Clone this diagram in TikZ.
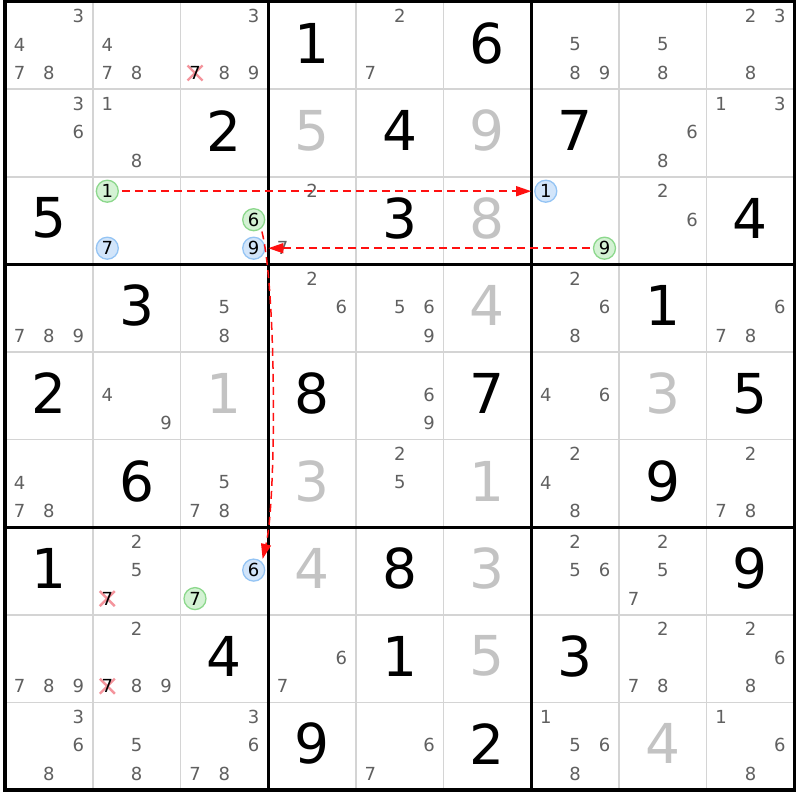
\documentclass[tikz,border=0pt]{standalone}
\usepackage{fontspec}
\setmainfont{DejaVu Sans}
\usetikzlibrary{arrows.meta}
\definecolor{thinc}{HTML}{D4D4D4}
\definecolor{candc}{HTML}{606060}
\definecolor{solvedc}{HTML}{C3C3C3}
\definecolor{gfill}{HTML}{D4F2D4}
\definecolor{gdraw}{HTML}{8CD88C}
\definecolor{bfill}{HTML}{D2E5FA}
\definecolor{bdraw}{HTML}{94C4F4}
\definecolor{xred}{HTML}{F4949C}
\definecolor{linkred}{HTML}{FF1010}
\newcommand\SetPos[3]{%
  \pgfmathsetmacro\px{5+87.7*(#2-1)+14.6+29.35*mod(#3-1,3)}%
  \pgfmathtruncatemacro\subrow{(#3-1)/3}%
  \pgfmathsetmacro\py{1.5+87.6*(#1-1)+14.5+28.5*\subrow}}
\newcommand\GivenD[3]{\node[given] (g#1#2) at ({5+87.7*(#2-1)+43.85},{1.5+87.6*(#1-1)+41.5}) {#3};}
\newcommand\SolvedD[3]{\node[solved] (g#1#2) at ({5+87.7*(#2-1)+43.85},{1.5+87.6*(#1-1)+41.5}) {#3};}
\newcommand\Cands[3]{\foreach \d in {#3}{\SetPos{#1}{#2}{\d}\node[cand] (k#1#2\d) at (\px,\py) {\d};}}
\newcommand\Circled[4]{\SetPos{#1}{#2}{#3}\node[cand,#4] (k#1#2#3) at (\px,\py) {#3};}
\newcommand\Crossed[3]{\SetPos{#1}{#2}{#3}\coordinate (x#1#2#3) at (\px,\py);
  \draw[xmark] ([shift={(-7.5,-7.5)}]x#1#2#3) -- ([shift={(7.5,7.5)}]x#1#2#3)
               ([shift={(-7.5,7.5)}]x#1#2#3) -- ([shift={(7.5,-7.5)}]x#1#2#3);
  \node[cand,text=black] (k#1#2#3) at (x#1#2#3) {#3};}
\begin{document}
\begin{tikzpicture}[x=1pt,y=-1pt,
  given/.style={inner sep=0pt,font=\fontsize{55}{55}\selectfont,text=black},
  solved/.style={given,text=solvedc},
  cand/.style={inner sep=0pt,font=\fontsize{18}{18}\selectfont,text=candc},
  gcirc/.style={circle,draw=gdraw,fill=gfill,line width=1.3pt,minimum size=22pt,text=black},
  bcirc/.style={circle,draw=bdraw,fill=bfill,line width=1.3pt,minimum size=22pt,text=black},
  xmark/.style={draw=xred,line width=2.4pt},
  thinline/.style={draw=thinc,line width=1.6pt},
  thickline/.style={draw=black,line width=3pt},
  link/.style={draw=linkred,line width=1.5pt,dash pattern=on 8pt off 5pt,
    -{Triangle[length=15pt,width=10pt]},shorten <=3pt,shorten >=3pt}]
\useasboundingbox (0,0) rectangle (800,800);
\fill[white] (0,0) rectangle (800,800);
% grid
\foreach \i in {1,2,4,5,7,8}{
  \draw[thinline] ({5+87.7*\i},1.5) -- ({5+87.7*\i},789.9);
  \draw[thinline] (5,{1.5+87.6*\i}) -- (794.3,{1.5+87.6*\i});
}
\foreach \i in {3,6}{
  \draw[thickline] ({5+87.7*\i},1.5) -- ({5+87.7*\i},789.9);
  \draw[thickline] (5,{1.5+87.6*\i}) -- (794.3,{1.5+87.6*\i});
}
\draw[thickline,line width=3.5pt] (5,1.5) rectangle (794.3,789.9);
% givens
\GivenD{1}{4}{1}\GivenD{1}{6}{6}
\GivenD{2}{3}{2}\GivenD{2}{5}{4}\GivenD{2}{7}{7}
\GivenD{3}{1}{5}\GivenD{3}{5}{3}\GivenD{3}{9}{4}
\GivenD{4}{2}{3}\GivenD{4}{8}{1}
\GivenD{5}{1}{2}\GivenD{5}{4}{8}\GivenD{5}{6}{7}\GivenD{5}{9}{5}
\GivenD{6}{2}{6}\GivenD{6}{8}{9}
\GivenD{7}{1}{1}\GivenD{7}{5}{8}\GivenD{7}{9}{9}
\GivenD{8}{3}{4}\GivenD{8}{5}{1}\GivenD{8}{7}{3}
\GivenD{9}{4}{9}\GivenD{9}{6}{2}
% solved
\SolvedD{2}{4}{5}\SolvedD{2}{6}{9}\SolvedD{3}{6}{8}
\SolvedD{4}{6}{4}\SolvedD{5}{3}{1}\SolvedD{5}{8}{3}
\SolvedD{6}{4}{3}\SolvedD{6}{6}{1}
\SolvedD{7}{4}{4}\SolvedD{7}{6}{3}\SolvedD{8}{6}{5}\SolvedD{9}{8}{4}
% candidates
\Cands{1}{1}{3,4,7,8}\Cands{1}{2}{4,7,8}\Cands{1}{3}{3,8,9}\Crossed{1}{3}{7}
\Cands{1}{5}{2,7}\Cands{1}{7}{5,8,9}\Cands{1}{8}{5,8}\Cands{1}{9}{2,3,8}
\Cands{2}{1}{3,6}\Cands{2}{2}{1,8}\Cands{2}{8}{6,8}\Cands{2}{9}{1,3}
\Circled{3}{2}{1}{gcirc}\Circled{3}{2}{7}{bcirc}
\Circled{3}{3}{6}{gcirc}\Circled{3}{3}{9}{bcirc}
\Cands{3}{4}{2,7}
\Circled{3}{7}{1}{bcirc}\Circled{3}{7}{9}{gcirc}
\Cands{3}{8}{2,6}
\Cands{4}{1}{7,8,9}\Cands{4}{3}{5,8}\Cands{4}{4}{2,6}\Cands{4}{5}{5,6,9}
\Cands{4}{7}{2,6,8}\Cands{4}{9}{6,7,8}
\Cands{5}{2}{4,9}\Cands{5}{5}{6,9}\Cands{5}{7}{4,6}
\Cands{6}{1}{4,7,8}\Cands{6}{3}{5,7,8}\Cands{6}{5}{2,5}\Cands{6}{7}{2,4,8}\Cands{6}{9}{2,7,8}
\Cands{7}{2}{2,5}\Crossed{7}{2}{7}
\Circled{7}{3}{6}{bcirc}\Circled{7}{3}{7}{gcirc}
\Cands{7}{7}{2,5,6}\Cands{7}{8}{2,5,7}
\Cands{8}{1}{7,8,9}\Cands{8}{2}{2,8,9}\Crossed{8}{2}{7}\Cands{8}{4}{6,7}
\Cands{8}{8}{2,7,8}\Cands{8}{9}{2,6,8}
\Cands{9}{1}{3,6,8}\Cands{9}{2}{5,8}\Cands{9}{3}{3,6,7,8}\Cands{9}{5}{6,7}
\Cands{9}{7}{1,5,6,8}\Cands{9}{9}{1,6,8}
% links
\draw[link] (k321) -- (k371);
\draw[link] (k379) -- (k339);
\draw[link] (k336.-50) .. controls (276.5,290) and (276.5,500) .. (k736.45);
\end{tikzpicture}
\end{document}
